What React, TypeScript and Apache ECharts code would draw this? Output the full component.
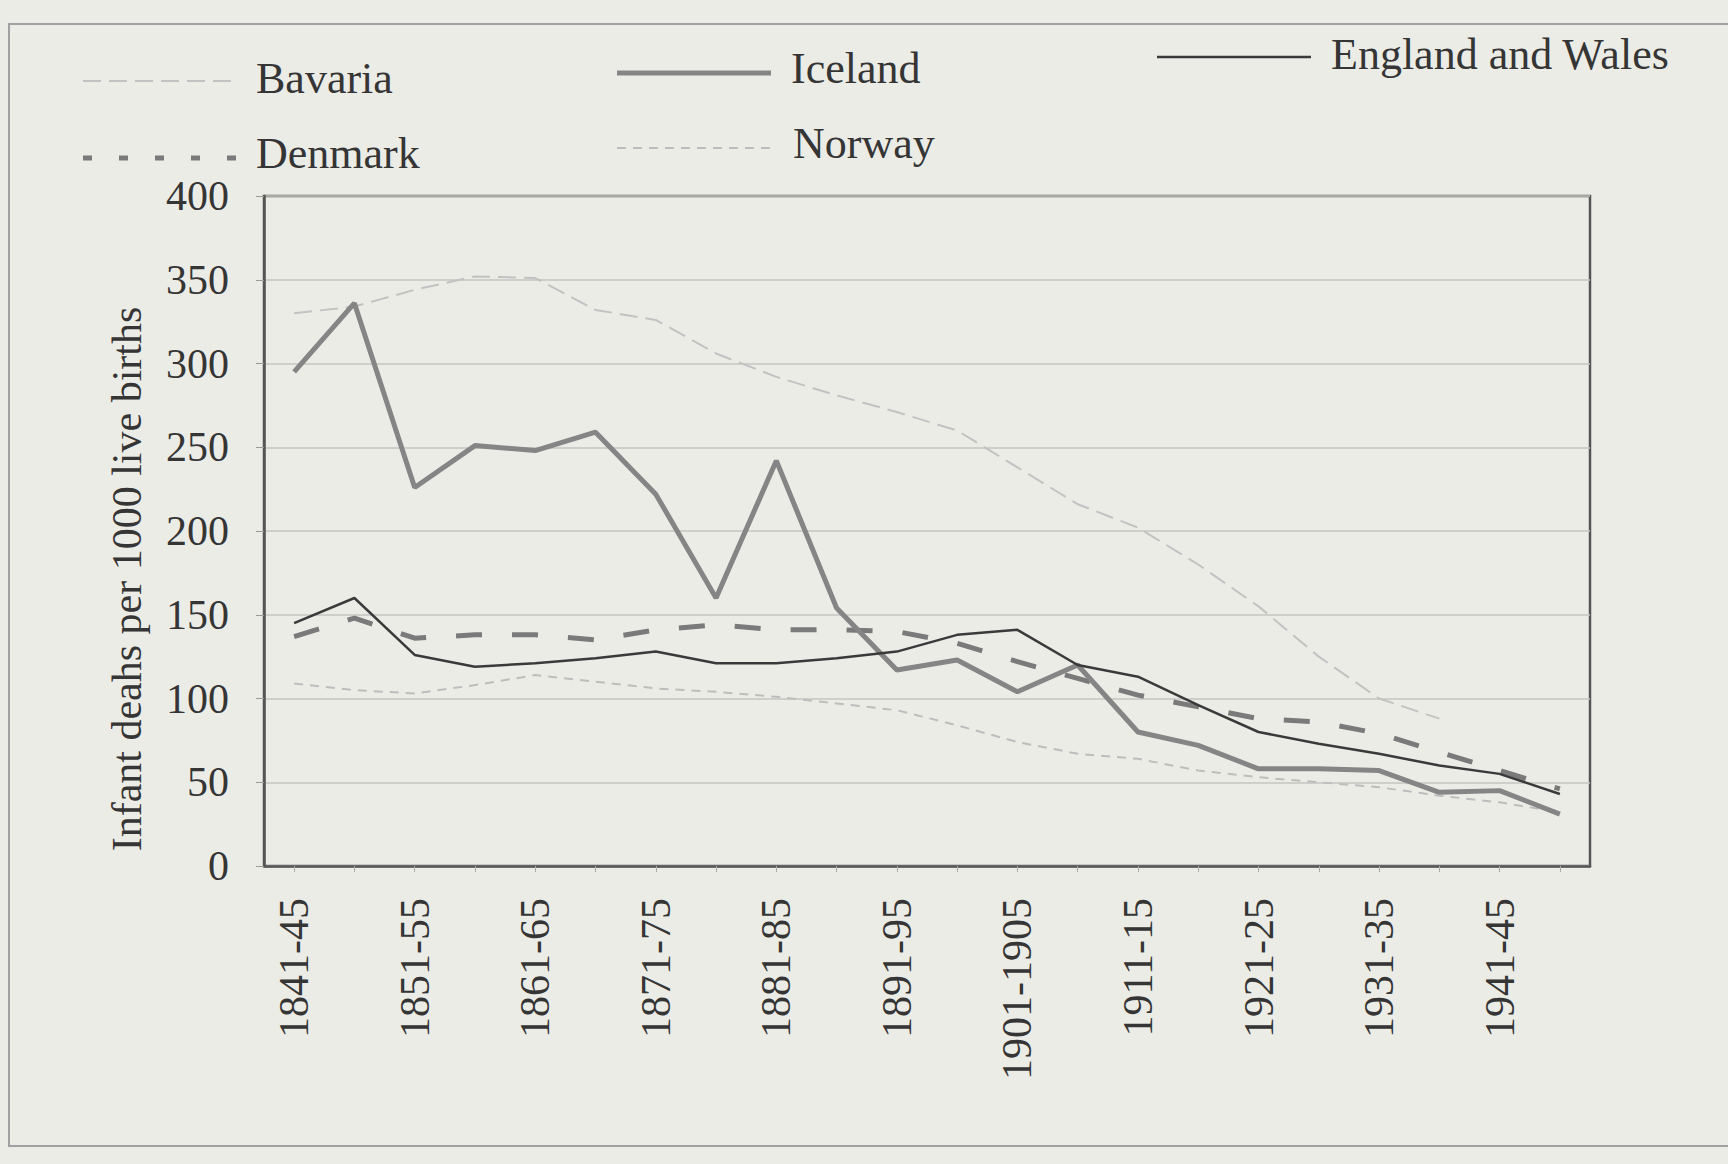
import React, { useEffect, useRef } from "react";
import * as echarts from "echarts";

const categories = [
  "1841-45", "1846-50", "1851-55", "1856-60", "1861-65", "1866-70", "1871-75", "1876-80",
  "1881-85", "1886-90", "1891-95", "1896-1900", "1901-1905", "1906-10", "1911-15", "1916-20",
  "1921-25", "1926-30", "1931-35", "1936-40", "1941-45", "1946-50",
];

const bavaria = [330, 334, 344, 352, 351, 332, 326, 306, 292, 281, 271, 260, 238, 216, 202, 180, 155, 125, 100, 88, null, null];
const iceland = [295, 336, 226, 251, 248, 259, 222, 160, 242, 154, 117, 123, 104, 120, 80, 72, 58, 58, 57, 44, 45, 31];
const englandWales = [145, 160, 126, 119, 121, 124, 128, 121, 121, 124, 128, 138, 141, 120, 113, 96, 80, 73, 67, 60, 55, 43];
const denmark = [137, 148, 136, 138, 138, 135, 141, 144, 141, 141, 140, 133, 122, 112, 102, 95, 88, 86, 79, 68, 57, 46];
const norway = [109, 105, 103, 108, 114, 110, 106, 104, 101, 97, 93, 84, 74, 67, 64, 57, 53, 50, 47, 42, 38, 32];

const yMin = 0;
const yMax = 400;
const yStep = 50;

const FONT = '"Liberation Serif", "DejaVu Serif", serif';
const INK = "#353535";

export default function App() {
  const ref = useRef<HTMLDivElement>(null);

  useEffect(() => {
    document.body.style.margin = "0";
    document.body.style.background = "#ecece7";
    if (!ref.current) return;
    const chart = echarts.init(ref.current, undefined, { renderer: "svg" });

    const legendItems = [
      { name: "Bavaria", lx: 83, ly: 81, tx: 256, ty: 78, stroke: "#c2c2c2", w: 2, dash: [18, 8] },
      { name: "Iceland", lx: 617, ly: 73, tx: 791, ty: 68, stroke: "#858585", w: 5, dash: null },
      { name: "England and Wales", lx: 1157, ly: 57, tx: 1331, ty: 54, stroke: "#3a3a3a", w: 2.5, dash: null },
      { name: "Denmark", lx: 83, ly: 158, tx: 256, ty: 153, stroke: "#7a7a7a", w: 5, dash: [9, 27] },
      { name: "Norway", lx: 617, ly: 148, tx: 793, ty: 143, stroke: "#bdbdbd", w: 2, dash: [9, 7] },
    ];

    const graphic: any[] = [
      {
        type: "rect",
        shape: { x: 9, y: 24, width: 1800, height: 1122 },
        style: { fill: "none", stroke: "#a0a0a0", lineWidth: 2 },
        silent: true,
      },
      {
        type: "text",
        x: 127,
        y: 579,
        rotation: Math.PI / 2,
        style: {
          text: "Infant deahs per 1000 live births",
          fontFamily: FONT,
          fontSize: 42,
          fill: INK,
          align: "center",
          verticalAlign: "middle",
        },
      },
    ];
    legendItems.forEach((it) => {
      graphic.push({
        type: "line",
        shape: { x1: it.lx, y1: it.ly, x2: it.lx + 154, y2: it.ly },
        style: { stroke: it.stroke, lineWidth: it.w, lineDash: it.dash || undefined },
      });
      graphic.push({
        type: "text",
        x: it.tx,
        y: it.ty,
        style: {
          text: it.name,
          fontFamily: FONT,
          fontSize: 44,
          fill: INK,
          align: "left",
          verticalAlign: "middle",
        },
      });
    });

    const option: any = {
      animation: false,
      backgroundColor: "#ecece7",
      legend: { show: false },
      grid: {
        left: 264,
        right: 138,
        top: 196,
        bottom: 1164 - 866,
        show: true,
        borderColor: "#555",
        borderWidth: 2.5,
        backgroundColor: "transparent",
      },
      xAxis: {
        type: "category",
        data: categories,
        boundaryGap: true,
        axisLine: { show: true, lineStyle: { color: "#555", width: 2.5 } },
        axisTick: { show: true, length: 6, alignWithLabel: true, interval: 0, lineStyle: { color: "#aaa" } },
        axisLabel: {
          interval: 1,
          rotate: 90,
          margin: 32,
          fontFamily: FONT,
          fontSize: 42,
          color: INK,
        },
        splitLine: { show: false },
      },
      yAxis: {
        type: "value",
        min: yMin,
        max: yMax,
        interval: yStep,
        axisLine: { show: true, lineStyle: { color: "#555", width: 2.5 } },
        axisTick: { show: true, length: 8, lineStyle: { color: "#999" } },
        axisLabel: {
          margin: 35,
          fontFamily: FONT,
          fontSize: 42,
          color: INK,
        },
        splitLine: { show: true, lineStyle: { color: "#c4c4c0", width: 1.5 } },
      },
      graphic,
      series: [
        {
          name: "Bavaria",
          type: "line",
          data: bavaria,
          symbol: "none",
          connectNulls: false,
          lineStyle: { color: "#c2c2c2", width: 2, type: [18, 8] },
          z: 2,
        },
        {
          name: "Norway",
          type: "line",
          data: norway,
          symbol: "none",
          lineStyle: { color: "#bdbdbd", width: 2, type: [9, 7] },
          z: 2,
        },
        {
          name: "Denmark",
          type: "line",
          data: denmark,
          symbol: "none",
          lineStyle: { color: "#7a7a7a", width: 5, type: [26, 30] },
          z: 3,
        },
        {
          name: "Iceland",
          type: "line",
          data: iceland,
          symbol: "none",
          lineStyle: { color: "#858585", width: 5 },
          z: 4,
        },
        {
          name: "England and Wales",
          type: "line",
          data: englandWales,
          symbol: "none",
          lineStyle: { color: "#3a3a3a", width: 2.5 },
          z: 5,
        },
      ],
    };

    chart.setOption(option);
    return () => {
      chart.dispose();
    };
  }, []);

  return <div ref={ref} style={{ width: 1728, height: 1164, background: "#ecece7" }} />;
}
